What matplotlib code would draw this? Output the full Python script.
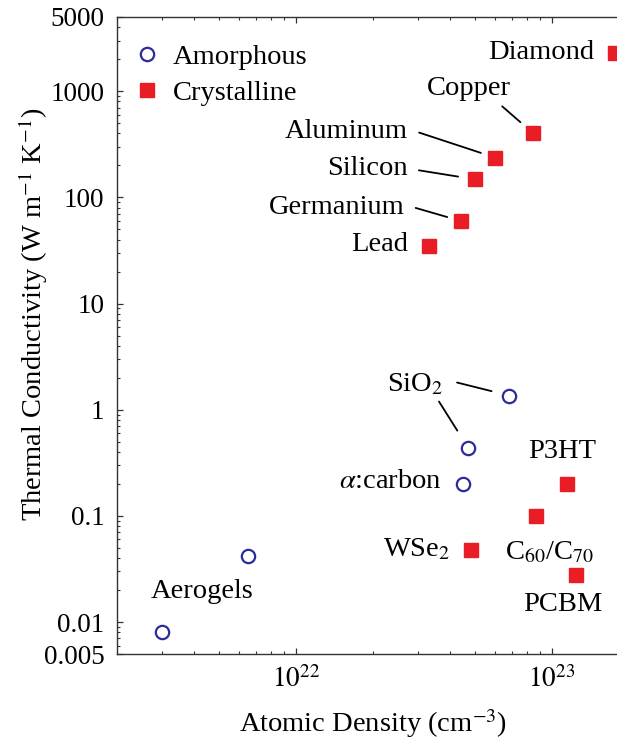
import numpy as np
import matplotlib
matplotlib.use('Agg')
import matplotlib.pyplot as plt
from matplotlib.ticker import FixedLocator, LogLocator, NullFormatter

plt.rcParams['font.family'] = ['Liberation Serif', 'DejaVu Serif']
plt.rcParams['mathtext.fontset'] = 'stix'

# amorphous materials
amor_names = ['Aerogels', 'Aerogels2', 'a-carbon', 'SiO2 a', 'SiO2 b']
amor_density = [3.0e21, 6.5e21, 4.5e22, 4.7e22, 6.8e22]
amor_k = [0.008, 0.042, 0.2, 0.44, 1.36]

# crystalline materials
crys_names = ['Lead', 'Germanium', 'Silicon', 'Aluminum', 'Copper', 'Diamond',
              'WSe2', 'C60/C70', 'P3HT', 'PCBM']
crys_density = [3.3e22, 4.4e22, 5.0e22, 6.0e22, 8.45e22, 1.76e23,
                4.85e22, 8.7e22, 1.15e23, 1.24e23]
crys_k = [35, 60, 148, 237, 401, 2300, 0.048, 0.1, 0.2, 0.028]

yticks = [0.005, 0.01, 0.1, 1, 10, 100, 1000, 5000]
ytick_labels = ['0.005', '0.01', '0.1', '1', '10', '100', '1000', '5000']
xticks = [1e22, 1e23]
xtick_labels = [r'$10^{22}$', r'$10^{23}$']

PX = 0.72  # pixels -> points at dpi 100

# (series, name, text, dx px, dy px, ha, va)
labels = [
    ('c', 'Diamond', 'Diamond', -21, 0, 'right', 'center'),
    ('c', 'Copper', 'Copper', -64, 45, 'center', 'center'),
    ('c', 'Aluminum', 'Aluminum', -87, 26, 'right', 'center'),
    ('c', 'Silicon', 'Silicon', -67, 11, 'right', 'center'),
    ('c', 'Germanium', 'Germanium', -56, 13, 'right', 'center'),
    ('c', 'Lead', 'Lead', -21, 1, 'right', 'center'),
    ('c', 'WSe2', 'WSe$_2$', -21, -7, 'right', 'baseline'),
    ('c', 'C60/C70', 'C$_{60}$/C$_{70}$', 13, -44, 'center', 'baseline'),
    ('c', 'P3HT', 'P3HT', -5, 32, 'center', 'center'),
    ('c', 'PCBM', 'PCBM', -13, -30, 'center', 'center'),
    ('a', 'SiO2 b', 'SiO$_2$', -94, 4, 'center', 'baseline'),
    ('a', 'a-carbon', r'$\alpha$:carbon', -21, 2, 'right', 'center'),
    ('a', 'Aerogels', 'Aerogels', 40, 41, 'center', 'center'),
]

# leader lines: (series, name, start dx px, start dy px, gap at marker px)
leaders = [
    ('c', 'Copper', -31, 27, 17),
    ('c', 'Aluminum', -76, 25, 15),
    ('c', 'Silicon', -56, 9, 17),
    ('c', 'Germanium', -45, 13, 14),
    ('a', 'SiO2 b', -52, 13, 18),
    ('a', 'SiO2 a', -29, 46, 20),
]


def point(series, name):
    if series == 'a':
        i = amor_names.index(name)
        return amor_density[i], amor_k[i]
    i = crys_names.index(name)
    return crys_density[i], crys_k[i]


fig = plt.figure(figsize=(6.17, 7.47), dpi=100)
ax = fig.add_axes([117 / 617, 93 / 747, 512 / 617, 637 / 747])

blue = '#2b2b9c'
red = '#e91d25'
h1, = ax.plot(amor_density, amor_k, 'o', ls='none', ms=9.6, mfc='none',
              mec=blue, mew=1.6, label='Amorphous', clip_on=False)
h2, = ax.plot(crys_density, crys_k, 's', ls='none', ms=9.6, color=red,
              label='Crystalline')

ax.set_xscale('log')
ax.set_yscale('log')
ax.set_xlim(2e21, 2e23)
ax.set_ylim(0.005, 5000)

ax.xaxis.set_major_locator(FixedLocator(xticks))
ax.set_xticklabels(xtick_labels)
ax.xaxis.set_minor_locator(LogLocator(base=10, subs=np.arange(2, 10)))
ax.xaxis.set_minor_formatter(NullFormatter())
ax.yaxis.set_major_locator(FixedLocator(yticks))
ax.set_yticklabels(ytick_labels)
ax.yaxis.set_minor_locator(LogLocator(base=10, subs=np.arange(2, 10)))
ax.yaxis.set_minor_formatter(NullFormatter())

ax.tick_params(which='both', direction='in', top=True, right=True,
               labelsize=19.5, color='#333333')
ax.tick_params(which='major', length=4.5, width=0.9, pad=9)
ax.tick_params(which='minor', length=2.3, width=0.8)
for s in ax.spines.values():
    s.set_color('#333333')
    s.set_linewidth(1.0)

ax.set_xlabel('Atomic Density (cm$^{-3}$)', fontsize=20.5, labelpad=10)
ax.set_ylabel('Thermal Conductivity (W m$^{-1}$ K$^{-1}$)', fontsize=20.5)
ax.yaxis.set_label_coords(-0.130, 0.534)

for series, name, text, dx, dy, ha, va in labels:
    ax.annotate(text, xy=point(series, name), xytext=(dx * PX, dy * PX),
                textcoords='offset points', ha=ha, va=va, fontsize=20.5)

for series, name, dx, dy, gap in leaders:
    ax.annotate('', xy=point(series, name), xytext=(dx * PX, dy * PX),
                textcoords='offset points',
                arrowprops=dict(arrowstyle='-', color='black', lw=1.3,
                                shrinkA=0, shrinkB=gap * PX))

ax.legend(handles=[h1, h2], loc='upper left', bbox_to_anchor=(0.031, 0.957),
          frameon=False, fontsize=20.5, borderaxespad=0, borderpad=0,
          handlelength=1.0, handletextpad=0.4, labelspacing=0.35,
          numpoints=1)

fig.savefig('out.png', dpi=100)
